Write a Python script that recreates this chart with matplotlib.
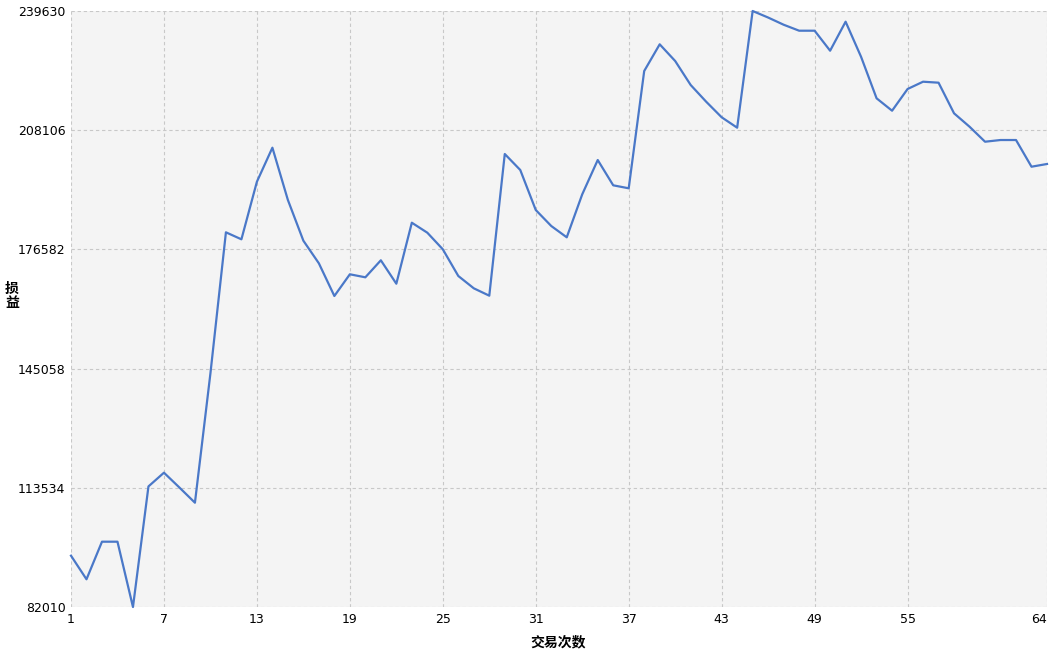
import numpy as np
import matplotlib
matplotlib.use('Agg')
import matplotlib.pyplot as plt

plt.rcParams['font.family'] = ['DejaVu Sans', 'Noto Sans CJK SC']

# Trade number and cumulative profit/loss
trades = list(range(1, 65))
pnl = [95580, 89340, 99280, 99280, 82010, 113900, 117530, 113600, 109590, 143800,
       181100, 179250, 194480, 203480, 189650, 178880, 172900, 164260, 170000, 169200,
       173700, 167510, 183640, 181000, 176610, 169550, 166290, 164340, 201810, 197580,
       187000, 182770, 179780, 191150, 200220, 193530, 192740, 223760, 230820, 226400,
       220060, 215640, 211520, 208770, 239630, 237900, 236000, 234420, 234420, 229130,
       236800, 227500, 216540, 213260, 219000, 220930, 220670, 212570, 209030, 205060,
       205510, 205510, 198450, 199170]

xticks = [1, 7, 13, 19, 25, 31, 37, 43, 49, 55, 64]
yticks = [82010, 113534, 145058, 176582, 208106, 239630]

fig = plt.figure(figsize=(10.61, 6.60), dpi=100)
ax = fig.add_axes([71 / 1061, 1 - 607 / 660, (1047 - 71) / 1061, (607 - 11) / 660])
ax.set_facecolor('#f4f4f4')

ax.plot(trades, pnl, color='#4a78c8', linewidth=1.6, clip_on=False, zorder=3)

ax.set_xlim(1, 64)
ax.set_ylim(82010, 239630)
ax.set_xticks(xticks)
ax.set_xticklabels([str(t) for t in xticks])
ax.set_yticks(yticks)
ax.set_yticklabels([str(t) for t in yticks])
ax.tick_params(length=0, labelsize=9, pad=4)
# last x label sits inside the right edge
ax.get_xticklabels()[-1].set_horizontalalignment('right')
ax.grid(True, color='#c8c8c8', linestyle=(0, (3, 2.5)), linewidth=0.8)
ax.set_axisbelow(True)
for s in ax.spines.values():
    s.set_visible(False)

fig.text(12 / 1061, 1 - 296 / 660, '损\n益', ha='center', va='center', fontsize=10,
         fontweight='bold', family=['Noto Sans CJK SC'], linespacing=0.95)
fig.text(558 / 1061, 1 - 642 / 660, '交易次数', ha='center', va='center', fontsize=10,
         fontweight='bold', family=['Noto Sans CJK SC'])

fig.savefig('out.png', dpi=100)
